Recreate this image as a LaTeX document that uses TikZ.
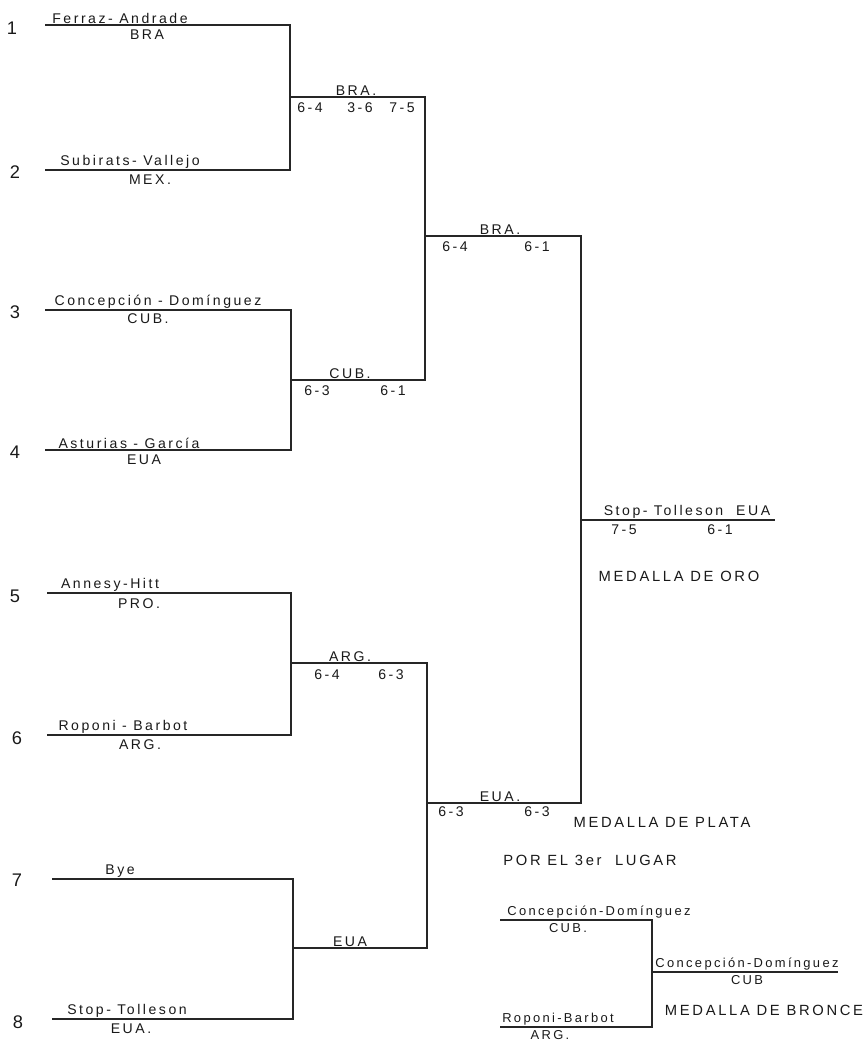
\documentclass[tikz,border=0pt]{standalone}
\usepackage{fontspec}
\newfontfamily\lettering[LetterSpace=18]{Liberation Sans}
\newfontfamily\seedfont{Liberation Sans}
\usetikzlibrary{positioning}

\begin{document}
\begin{tikzpicture}[
  x=0.025cm, y=-0.025cm,
  every node/.style={font=\lettering\fontsize{10}{11}\selectfont, text=black!90, inner sep=1pt},
  player/.style={anchor=south},
  nation/.style={anchor=north},
  score/.style={anchor=north},
  caption/.style={font=\lettering\fontsize{10.5}{12}\selectfont},
  small/.style={font=\lettering\fontsize{9.2}{10}\selectfont},
  seed/.style={font=\seedfont\fontsize{13}{14}\selectfont},
  bracket/.style={line width=1.1pt, draw=black!85}
]
\useasboundingbox (0,0) rectangle (866,1047);

% ------------------------------------------------------------
% First round: eight entries
% ------------------------------------------------------------
\coordinate (a1) at (45,25);   \coordinate (b1) at (290,25);
\coordinate (a2) at (45,170);  \coordinate (b2) at (290,170);
\coordinate (a3) at (45,310);  \coordinate (b3) at (291,310);
\coordinate (a4) at (45,450);  \coordinate (b4) at (291,450);
\coordinate (a5) at (47,593);  \coordinate (b5) at (291,593);
\coordinate (a6) at (47,735);  \coordinate (b6) at (291,735);
\coordinate (a7) at (52,879);  \coordinate (b7) at (293,879);
\coordinate (a8) at (52,1019); \coordinate (b8) at (293,1019);

\draw[bracket] (a1) -- (b1) -- (b2) -- (a2);
\draw[bracket] (a3) -- (b3) -- (b4) -- (a4);
\draw[bracket] (a5) -- (b5) -- (b6) -- (a6);
\draw[bracket] (a7) -- (b7) -- (b8) -- (a8);

\node[seed] (n1) at (12,28) {1};
\node[seed] (n2) at (15,172) {2};
\node[seed] (n3) at (15,312) {3};
\node[seed] (n4) at (15,452) {4};
\node[seed] (n5) at (15,596) {5};
\node[seed] (n6) at (17,738) {6};
\node[seed] (n7) at (17,880) {7};
\node[seed] (n8) at (18,1022) {8};

\node[player] (p1) at (120,25) {Ferraz- Andrade};
\node[nation] (c1) at (147,28) {BRA};
\node[player] (p2) at (130,170) {Subirats- Vallejo};
\node[nation] (c2) at (150,173) {MEX.};
\node[player] (p3) at (158,310) {Concepción - Domínguez};
\node[nation] (c3) at (148,312) {CUB.};
\node[player] (p4) at (129,450) {Asturias - García};
\node[nation] (c4) at (144,453) {EUA};
\node[player] (p5) at (110,593) {Annesy-Hitt};
\node[nation] (c5) at (139,597) {PRO.};
\node[player] (p6) at (123,735) {Roponi - Barbot};
\node[nation] (c6) at (140,738) {ARG.};
\node[player] (p7) at (120,879) {Bye};
\node[player] (p8) at (127,1019) {Stop- Tolleson};
\node[nation] (c8) at (131,1022) {EUA.};

% ------------------------------------------------------------
% Second round
% ------------------------------------------------------------
\coordinate (q1) at (290,97);  \coordinate (r1) at (425,97);
\coordinate (q2) at (291,380); \coordinate (r2) at (425,380);
\coordinate (q3) at (291,663); \coordinate (r3) at (427,663);
\coordinate (q4) at (293,948); \coordinate (r4) at (427,948);

\draw[bracket] (q1) -- (r1) -- (r2) -- (q2);
\draw[bracket] (q3) -- (r3) -- (r4) -- (q4);

\node[player] (w1) at (356,97) {BRA.};
\node[score] at (310,101) {6-4};
\node[score] at (360,101) {3-6};
\node[score] at (402,101) {7-5};
\node[player] (w2) at (350,380) {CUB.};
\node[score] at (317,384) {6-3};
\node[score] at (393,384) {6-1};
\node[player] (w3) at (350,663) {ARG.};
\node[score] at (327,668) {6-4};
\node[score] at (391,668) {6-3};
\node[player] (w4) at (350,948) {EUA};

% ------------------------------------------------------------
% Semifinals and final
% ------------------------------------------------------------
\coordinate (s1) at (425,236); \coordinate (t1) at (581,236);
\coordinate (s2) at (427,803); \coordinate (t2) at (581,803);
\coordinate (f0) at (581,520); \coordinate (f1) at (775,520);

\draw[bracket] (s1) -- (t1) -- (t2) -- (s2);
\draw[bracket] (f0) -- (f1);

\node[player] (v1) at (500,236) {BRA.};
\node[score] at (455,240) {6-4};
\node[score] at (537,240) {6-1};
\node[player] (v2) at (500,803) {EUA.};
\node[score] at (451,805) {6-3};
\node[score] at (537,805) {6-3};

\node[player] (champ) at (687,520) {Stop- Tolleson\ \ EUA};
\node[score] at (624,523) {7-5};
\node[score] at (720,523) {6-1};
\node[caption] (gold) at (679,576) {MEDALLA DE ORO};
\node[caption] (silver) at (662,822) {MEDALLA DE PLATA};
\node[caption] (third) at (590,860) {POR EL 3er\ \ LUGAR};

% ------------------------------------------------------------
% Match for third place
% ------------------------------------------------------------
\coordinate (g1) at (500,920);  \coordinate (h1) at (652,920);
\coordinate (g2) at (500,1027); \coordinate (h2) at (652,1027);
\coordinate (e0) at (652,972);  \coordinate (e1) at (838,972);

\draw[bracket] (g1) -- (h1) -- (h2) -- (g2);
\draw[bracket] (e0) -- (e1);

\node[player, small] (x1) at (599,920) {Concepción-Domínguez};
\node[nation, small] at (568,922) {CUB.};
\node[player, small] (x2) at (558,1027) {Roponi-Barbot};
\node[nation, small] at (550,1029) {ARG.};
\node[player, small] (bronze) at (747,972) {Concepción-Domínguez};
\node[nation, small] at (747,974) {CUB};
\node[caption] (bron) at (764,1010) {MEDALLA DE BRONCE};

\end{tikzpicture}
\end{document}
